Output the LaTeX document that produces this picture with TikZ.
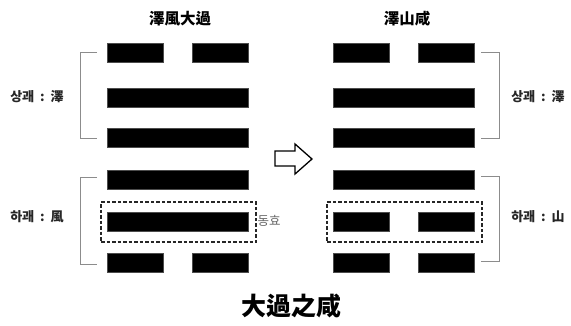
\documentclass[tikz,border=0pt]{standalone}
\usepackage{fontspec}
\newfontfamily\kr{Noto Sans CJK KR}
\usetikzlibrary{positioning}
\newcommand{\sepcolon}{\hspace{6pt}:\hspace{6pt}}
\tikzset{
  bar/.style={fill=black, draw=black!70, line width=0.4pt, inner sep=0pt, minimum height=19pt},
  full/.style={bar, minimum width=141pt},
  half/.style={bar, minimum width=56pt},
  brk/.style={draw=black!45, line width=0.7pt},
  dbox/.style={draw=black!85, line width=1.1pt, dash pattern=on 3.5pt off 2pt, minimum width=155pt, minimum height=40pt, inner sep=0pt},
  lab/.style={font=\kr\bfseries\fontsize{13}{15}\selectfont, text=black!85, inner sep=0pt},
  ttl/.style={font=\kr\bfseries\fontsize{15.5}{17}\selectfont, inner sep=0pt},
}
\begin{document}
\begin{tikzpicture}[x=1pt,y=-1pt]
\useasboundingbox (0,0) rectangle (571,325);
\fill[white] (0,0) rectangle (571,325);
% titles
\node[ttl] (tL) at (180,18.5) {澤風大過};
\node[ttl] (tR) at (407,18.5) {澤山咸};
\node[font=\kr\bfseries\fontsize{25}{28}\selectfont, inner sep=0pt] (tB) at (291,306) {大過之咸};
% left hexagram
\node[half] (L1a) at (135,52.5) {};
\node[half] (L1b) at (220,52.5) {};
\node[full] (L2) at (177.5,97.5) {};
\node[full] (L3) at (177.5,137.5) {};
\node[full] (L4) at (177.5,180) {};
\node[full] (L5) at (177.5,222) {};
\node[half] (L6a) at (135,262.5) {};
\node[half] (L6b) at (220,262.5) {};
% right hexagram
\node[half] (R1a) at (361,52.5) {};
\node[half] (R1b) at (446,52.5) {};
\node[full] (R2) at (403.5,97.5) {};
\node[full] (R3) at (403.5,137.5) {};
\node[full] (R4) at (403.5,180) {};
\node[half] (R5a) at (361,222) {};
\node[half] (R5b) at (446,222) {};
\node[half] (R6a) at (361,262.5) {};
\node[half] (R6b) at (446,262.5) {};
% dashed boxes
\node[dbox] (dL) at (178.5,222) {};
\node[dbox] (dR) at (404.5,222) {};
\node[font=\kr\fontsize{12.5}{14}\selectfont, text=black!60, inner sep=0pt, anchor=west] (dong) at (257.5,221) {동효};
% brackets
\draw[brk] (97,52) -- (80,52) -- (80,138) -- (97,138);
\draw[brk] (97,177) -- (80,177) -- (80,264) -- (97,264);
\draw[brk] (481,52) -- (499,52) -- (499,138) -- (481,138);
\draw[brk] (481,176) -- (499,176) -- (499,261) -- (481,261);
% labels
\node[lab] (lU) at (37,97) {상괘\sepcolon 澤};
\node[lab] (lD) at (37,217) {하괘\sepcolon 風};
\node[lab] (rU) at (538,97) {상괘\sepcolon 澤};
\node[lab] (rD) at (538,217) {하괘\sepcolon 山};
% arrow
\draw[line width=1.3pt, line join=miter, fill=white] (275,151) -- (295,151) -- (295,144) -- (312,159) -- (295,174) -- (295,166) -- (275,166) -- cycle;
\end{tikzpicture}
\end{document}
